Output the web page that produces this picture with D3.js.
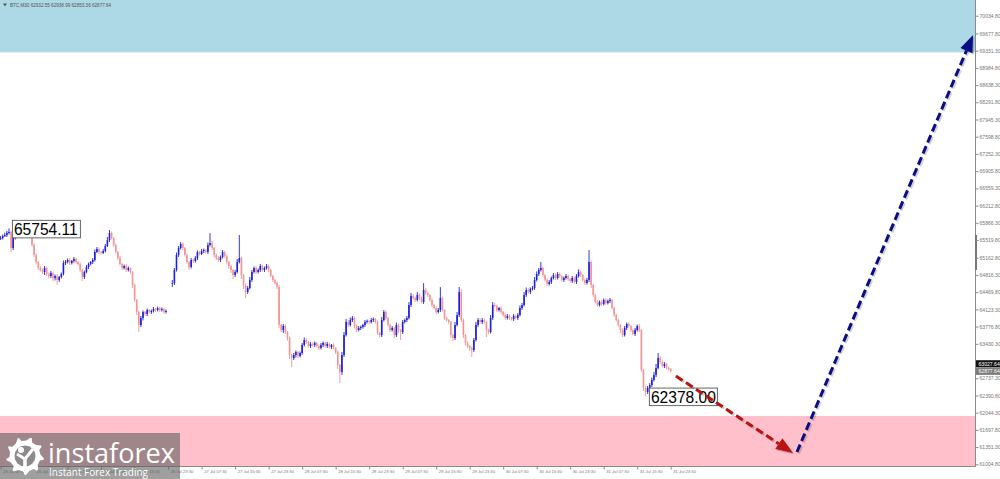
<!DOCTYPE html>
<html><head><meta charset="utf-8">
<script src="https://cdn.jsdelivr.net/npm/d3@7"></script>
<style>body{margin:0;background:#fff;overflow:hidden}svg{display:block}</style>
</head><body>
<svg id="c" width="1000" height="479"></svg>
<script>
const symbolTitle = "BTC,M30";
const lastOHLC = ["62932.55", "62938.99", "62853.36", "62877.64"];

const closes = [
65560,65600,65620,65661,65681,65359,65560,65600,65641,65681,
65661,65721,65620,65701,65600,65419,65218,65077,64956,64916,
64876,64956,64835,64795,64856,64755,64795,64715,64775,64835,
65057,65077,65117,65057,65097,65137,65077,65037,64916,64775,
64876,64976,65037,65077,65117,65278,65339,65278,65258,65298,
65399,65520,65661,65560,65419,65278,65157,65037,64956,64996,
64916,64956,64876,64614,64312,64071,63809,63950,64071,64030,
64111,64071,64091,64131,64111,64151,64111,64131,64071,64091,
null,null,64654,64916,65218,65359,65439,65359,65218,65077,
64976,65117,65097,65157,65278,65238,65298,65318,65278,65419,
65459,65359,65218,65157,65117,65178,65278,65198,65077,64996,
64916,64815,64876,65077,65157,64815,64614,64473,64554,64715,
64876,64956,64876,64916,64996,64916,64956,64996,64916,64795,
64715,64654,64574,63809,63708,63788,63668,63547,63205,63144,
63205,63265,63185,63245,63406,63507,63467,63386,63427,63406,
63447,63386,63346,63406,63447,63386,63427,63366,63406,63346,
63265,63004,62863,63205,63607,63869,63809,63909,63950,63788,
63708,63748,63768,63809,63869,63889,63869,63909,63930,63869,
63648,63607,63909,64071,63950,63809,63708,63748,63607,63809,
63708,63668,63869,63909,63950,64211,64393,64352,64312,64413,
64352,64272,64513,64453,64413,64312,64211,64151,64071,64111,
64352,64111,63950,63909,63869,63607,63547,63809,64010,64473,
63909,63607,63447,63386,63346,63306,63507,63809,63909,63869,
63909,63869,63708,63668,63950,64211,64191,64111,64151,64071,
64010,63950,63990,63950,63930,63990,63950,64010,64151,64211,
64413,64513,64473,64534,64554,64715,64835,64916,64956,64815,
64715,64634,64674,64755,64815,64755,64835,64795,64715,64755,
64795,64735,64695,64755,64674,64795,64876,64815,64715,64654,
64715,65077,64614,64413,64272,64211,64272,64232,64312,64252,
64292,64312,64151,64010,63909,63809,63708,63607,63748,63829,
63788,63708,63628,63708,63788,63708,62903,62541,62460,62541,
62601,62702,62802,62943,63144,63064,62983,63024,62943,62932.55,
62877.64];

const upperWicks = [
40,30,50,40,73.11,20,40,30,50,30,
40,30,20,40,30,20,40,30,20,40,
30,40,20,30,40,20,30,40,20,30,
50,40,30,40,20,40,30,20,30,20,
30,40,30,20,40,50,40,30,20,40,
40,60,60,30,20,30,20,40,20,30,
40,30,20,20,30,20,30,40,30,20,
30,20,30,40,20,30,20,30,20,30,
0,0,60,40,50,40,40,30,20,30,
20,40,30,40,30,20,40,30,20,50,
200,40,20,30,40,30,40,20,30,20,
30,20,40,60,463,30,20,30,40,60,
40,30,40,30,40,20,30,40,30,20,
30,20,30,40,20,40,30,20,30,20,
40,30,20,30,40,50,30,20,40,30,
30,20,30,40,30,20,40,30,20,30,
20,30,20,60,60,60,40,50,40,30,
30,40,30,20,40,30,20,40,30,20,
30,20,60,40,30,20,30,40,20,50,
30,20,40,30,40,60,60,40,30,60,
40,30,140,40,30,20,30,20,30,40,
220,30,20,30,20,20,30,60,60,100,
60,30,20,30,20,30,40,60,40,30,
40,30,20,30,60,60,40,30,20,30,
20,30,40,30,20,40,30,40,50,40,
60,50,40,30,40,60,50,40,120,30,
20,30,40,30,40,30,40,30,20,30,
40,30,20,40,30,40,50,30,20,30,
40,240,30,20,30,40,30,40,30,40,
30,40,20,30,20,30,20,30,40,30,
30,20,30,40,30,40,20,20,30,40,
40,50,60,80,100,40,30,40,20,30,
6.44];

const lowerWicks = [
40,30,20,40,30,80,40,30,20,30,
30,40,30,20,40,30,40,50,40,30,
40,60,40,50,40,60,50,100,40,30,
30,40,30,40,30,30,40,30,40,80,
40,30,40,30,40,30,20,40,30,20,
30,20,40,30,40,30,40,30,40,30,
40,30,40,60,40,60,140,40,50,40,
40,30,40,30,40,30,40,30,40,30,
0,0,80,40,30,40,30,40,30,40,
60,30,40,30,40,30,20,40,30,40,
30,40,50,40,30,40,30,40,50,60,
60,80,40,30,30,80,80,120,40,30,
40,30,40,30,40,30,40,30,40,30,
40,30,40,60,40,60,40,50,80,180,
40,50,40,30,40,30,40,30,40,30,
40,30,40,30,40,30,40,30,40,30,
40,80,220,60,40,30,40,30,40,50,
40,30,40,30,40,30,40,30,40,30,
40,50,40,30,40,30,40,30,60,40,
60,160,40,30,40,30,40,30,40,30,
40,30,40,30,40,30,40,30,40,30,
40,30,40,30,40,60,60,40,30,40,
40,60,50,40,60,140,40,30,40,30,
40,30,140,40,30,40,30,40,30,40,
30,40,30,40,30,40,30,40,30,40,
30,40,30,40,30,40,30,40,30,40,
30,40,30,40,30,40,30,40,30,40,
30,40,30,40,30,40,30,40,30,40,
30,40,60,40,30,40,30,40,30,40,
30,40,30,40,30,40,60,40,30,40,
30,40,30,40,30,40,40,60,82,40,
30,40,30,40,30,40,30,40,30,40,
24.28];

const priceTicks = [70034.80, 69677.80, 69331.30, 68984.80, 68638.30, 68291.80, 67945.30, 67598.80,
  67252.30, 66905.80, 66559.30, 66212.80, 65866.30, 65519.80, 65162.80, 64816.30, 64469.80,
  64123.30, 63776.80, 63430.30, 62737.30, 62390.80, 62044.30, 61697.80, 61351.30, 61004.80];

const timeLabels = ["25 Jul 07:30","25 Jul 15:30","25 Jul 23:30","26 Jul 07:30","26 Jul 15:30",
  "26 Jul 23:30","27 Jul 07:30","27 Jul 15:30","27 Jul 23:30","28 Jul 07:30","28 Jul 15:30",
  "28 Jul 23:30","29 Jul 07:30","29 Jul 15:30","29 Jul 23:30","30 Jul 07:30","30 Jul 15:30",
  "30 Jul 23:30","31 Jul 07:30","31 Jul 15:30","31 Jul 23:30"];
const timeTickBars = [0,16,32,48,64,80,96,112,128,144,160,176,192,208,224,240,256,272,288,304,320];

const targetZoneTop = [69298, 70600];     // blue zone
const targetZoneBottom = [60800, 61977];  // pink zone
const askPrice = 63027.64;
const bidPrice = 62877.64;
const markedPrices = [
  {bar: 5.4, price: 65754.11, text: "65754.11"},
  {bar: 309.6, price: 62378.00, text: "62378.00"}
];
const forecastDown = [{bar: 322.5, price: 62782}, {bar: 378.4, price: 61232}];
const forecastUp = [{bar: 380.3, price: 61252}, {bar: 464.4, price: 69647}];

// ---------- drawing ----------
const svg = d3.select("#c");
const W = 1000, H = 479, PR = 975.5, PB = 466.5;
const x = d3.scaleLinear().domain([0, 320]).range([0.6, 670.7]);
const y = d3.scaleLinear().domain([61004.8, 70034.8]).range([464.3, 15.7]);

svg.append("rect").attr("width", W).attr("height", H).attr("fill", "#fff");
svg.append("defs").append("clipPath").attr("id", "plot")
  .append("rect").attr("x", 0).attr("y", 0).attr("width", PR).attr("height", PB);

const plot = svg.append("g").attr("clip-path", "url(#plot)");
plot.append("rect").attr("x", 0).attr("width", PR)
  .attr("y", y(targetZoneTop[1])).attr("height", y(targetZoneTop[0]) - y(targetZoneTop[1]))
  .attr("fill", "#add8e6");
plot.append("rect").attr("x", 0).attr("width", PR)
  .attr("y", y(targetZoneBottom[1])).attr("height", y(targetZoneBottom[0]) - y(targetZoneBottom[1]))
  .attr("fill", "#ffc0cb");

// candles
const bars = closes.map((c, i) => {
  if (c == null) return null;
  const o = (i > 0 && closes[i - 1] != null) ? closes[i - 1] : c;
  return {i, o, c, h: Math.max(o, c) + upperWicks[i], l: Math.min(o, c) - lowerWicks[i]};
}).filter(d => d);
const UP = "#1f1fd8", DN = "#f29494";
const cg = plot.append("g");
cg.selectAll("line").data(bars).join("line")
  .attr("x1", d => x(d.i)).attr("x2", d => x(d.i))
  .attr("y1", d => y(d.h)).attr("y2", d => y(d.l))
  .attr("stroke", d => d.c >= d.o ? UP : DN).attr("stroke-width", 0.9);
cg.selectAll("rect").data(bars).join("rect")
  .attr("x", d => x(d.i) - 0.8).attr("width", 1.6)
  .attr("y", d => y(Math.max(d.o, d.c)))
  .attr("height", d => Math.max(0.8, Math.abs(y(d.o) - y(d.c))))
  .attr("fill", d => d.c >= d.o ? UP : DN);

// marked price labels
markedPrices.forEach(m => {
  const g = plot.append("g");
  const bx = x(m.bar), by = y(m.price) - 8.5;
  g.append("rect").attr("x", bx + 0.5).attr("y", by + 0.5).attr("width", 68).attr("height", 17.5)
    .attr("fill", "#fff").attr("stroke", "#666").attr("stroke-width", 1);
  g.append("text").attr("x", bx + 2).attr("y", by + 15)
    .attr("font-family", "Liberation Sans, Arial, sans-serif").attr("font-size", 15.6)
    .attr("fill", "#000").text(m.text);
});

// forecast arrows
function arrow(pts, color) {
  const x0 = x(pts[0].bar), y0 = y(pts[0].price), x1 = x(pts[1].bar), y1 = y(pts[1].price);
  const dx = x1 - x0, dy = y1 - y0, len = Math.hypot(dx, dy), ux = dx / len, uy = dy / len;
  const hl = 17, hw = 6.5;
  const bx = x1 - ux * hl, by = y1 - uy * hl;
  const g = svg.append("g");
  [[1.5, 1.5, "rgba(0,0,0,0.18)"], [0, 0, color]].forEach(([ox, oy, col]) => {
    g.append("line").attr("x1", x0 + ox).attr("y1", y0 + oy).attr("x2", bx + ox).attr("y2", by + oy)
      .attr("stroke", col).attr("stroke-width", 3).attr("stroke-dasharray", "8,4");
    g.append("path").attr("d", `M${x1 + ox},${y1 + oy}L${bx - uy * hw + ox},${by + ux * hw + oy}L${bx + uy * hw + ox},${by - ux * hw + oy}Z`)
      .attr("fill", col);
  });
}
arrow(forecastDown, "#b81414");
arrow(forecastUp, "#0c0c86");

// axes
const axisColor = "#8a8a8a";
svg.append("line").attr("x1", PR).attr("x2", PR).attr("y1", 0).attr("y2", PB).attr("stroke", axisColor);
svg.append("line").attr("x1", 0).attr("x2", PR).attr("y1", PB).attr("y2", PB).attr("stroke", axisColor);
svg.append("rect").attr("x", PR - 0.5).attr("y", 235).attr("width", 2).attr("height", 35).attr("fill", "#777");

const ya = svg.append("g").attr("transform", `translate(${PR},0)`)
  .call(d3.axisRight(y).tickValues(priceTicks).tickSize(3).tickFormat(d => d.toFixed(2)));
ya.select(".domain").remove();
ya.selectAll("line").attr("stroke", axisColor);
ya.selectAll("text").attr("x", 4).attr("fill", "#777")
  .attr("font-family", "Liberation Sans, Arial, sans-serif").attr("font-size", 5.1);

const xa = svg.append("g").attr("transform", `translate(0,${PB})`)
  .call(d3.axisBottom(x).tickValues(timeTickBars).tickSize(3).tickFormat((d, i) => timeLabels[i]));
xa.select(".domain").remove();
xa.selectAll("line").attr("stroke", axisColor);
xa.selectAll("text").attr("text-anchor", "start").attr("x", 2).attr("y", 6).attr("dy", 0)
  .attr("fill", "#777").attr("font-family", "Liberation Sans, Arial, sans-serif").attr("font-size", 4.2);

// price tags on axis
[[askPrice, "#111"], [bidPrice, "#7a7a7a"]].forEach(([p, col]) => {
  svg.append("rect").attr("x", PR + 0.5).attr("y", y(p) - 3.6).attr("width", 24).attr("height", 7.2).attr("fill", col);
  svg.append("text").attr("x", PR + 3).attr("y", y(p) + 1.9).attr("fill", "#fff")
    .attr("font-family", "Liberation Sans, Arial, sans-serif").attr("font-size", 5.1).text(p.toFixed(2));
});

// header
svg.append("path").attr("d", "M3,3.5L7,3.5L5,6.5Z").attr("fill", "#555");
svg.append("text").attr("x", 10).attr("y", 6.5).attr("fill", "#555")
  .attr("font-family", "Liberation Sans, Arial, sans-serif").attr("font-size", 4.6)
  .text(symbolTitle + "  " + lastOHLC.join(" "));

// logo
const lg = svg.append("g");
lg.append("rect").attr("x", 0).attr("y", 433).attr("width", 180).attr("height", 46).attr("fill", "rgba(95,95,95,0.6)");
const cx = 25, cy = 456, ro = 19, ri = 15.5, nT = 9;
let gp = "";
for (let k = 0; k < nT; k++) {
  const a0 = (k / nT) * 2 * Math.PI, a1 = a0 + Math.PI / nT * 0.55, a2 = a0 + Math.PI / nT, a3 = a0 + Math.PI / nT * 1.45, a4 = a0 + 2 * Math.PI / nT;
  const pt = (r, a) => `${cx + r * Math.cos(a)},${cy + r * Math.sin(a)}`;
  gp += (k === 0 ? "M" : "L") + pt(ro, a0 + 0.12) + "L" + pt(ro, a1) + "L" + pt(ri, a1 + 0.1) + "L" + pt(ri, a3 + 0.1);
}
lg.append("path").attr("d", gp + "Z").attr("fill", "#fff");
lg.append("circle").attr("cx", cx).attr("cy", cy).attr("r", 10.5).attr("fill", "#8e8a8b");
lg.append("circle").attr("cx", cx - 4).attr("cy", cy - 6).attr("r", 3).attr("fill", "#fff");
lg.append("path").attr("d", `M${cx - 8},${cy - 2}L${cx},${cy + 3}L${cx + 8},${cy - 7}`).attr("stroke", "#fff").attr("stroke-width", 3).attr("fill", "none");
lg.append("rect").attr("x", cx - 1.8).attr("y", cy + 2).attr("width", 3.6).attr("height", 14).attr("fill", "#fff");
lg.append("text").attr("x", 48).attr("y", 463).attr("fill", "#fff")
  .attr("font-family", "Open Sans, Liberation Sans, sans-serif").attr("font-size", 28)
  .attr("textLength", 127).attr("lengthAdjust", "spacingAndGlyphs").text("instaforex");
lg.append("text").attr("x", 49).attr("y", 475.5).attr("fill", "#fff")
  .attr("font-family", "Open Sans, Liberation Sans, sans-serif").attr("font-size", 11.5)
  .attr("textLength", 99).attr("lengthAdjust", "spacingAndGlyphs").text("Instant Forex Trading");
</script>
</body></html>
